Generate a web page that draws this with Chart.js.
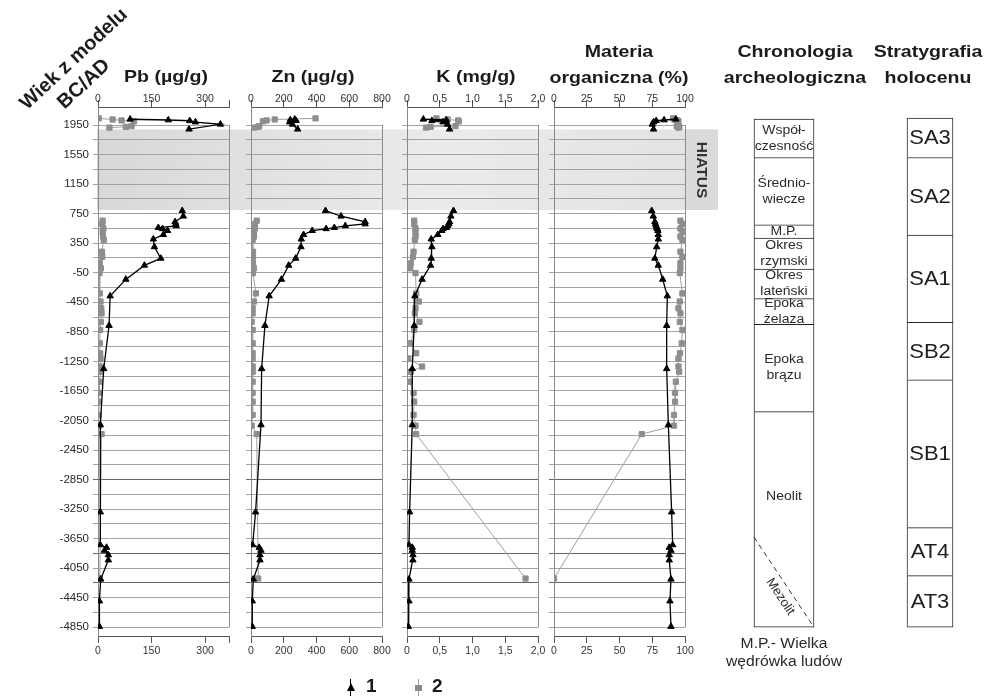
<!DOCTYPE html>
<html lang="pl">
<head>
<meta charset="utf-8">
<title>Pb, Zn, K, materia organiczna – chronologia</title>
<script src="https://cdn.jsdelivr.net/npm/chart.js@4.4.1/dist/chart.umd.min.js"></script>
<style>
  html, body { margin:0; padding:0; background:#fff; }
  #stage { position:relative; width:985px; height:698px; overflow:hidden;
           font-family:"Liberation Sans", Arial, Helvetica, sans-serif; color:#1b1b1b; }
  #stage canvas { position:absolute; left:0; top:0; }
  .t { position:absolute; white-space:nowrap; text-align:center; }
  .hdr { width:240px; font-weight:bold; font-size:17px; line-height:26px; transform:scaleX(1.15); }
  .rot { font-weight:bold; font-size:20px; line-height:22px; transform-origin:center center; }
  .note { width:180px; font-size:14px; line-height:18px; color:#2a2a2a; transform:scaleX(1.12); }
  .leg { font-weight:bold; font-size:19px; line-height:22px; text-align:left; }
  .bar { position:absolute; }
</style>
</head>
<body>
<div id="stage">
  <canvas id="cPb" width="985" height="698"></canvas>
  <canvas id="cZn" width="985" height="698"></canvas>
  <canvas id="cK" width="985" height="698"></canvas>
  <canvas id="cMO" width="985" height="698"></canvas>
  <canvas id="cChron" width="985" height="698"></canvas>

  <div class="t rot" style="left:-12px;top:47px;width:170px;transform:rotate(-43deg)">Wiek z modelu</div>
  <div class="t rot" style="left:43px;top:72px;width:80px;transform:rotate(-43deg)">BC/AD</div>

  <div class="t hdr" style="left:46px;top:64px">Pb (µg/g)</div>
  <div class="t hdr" style="left:193px;top:64px">Zn (µg/g)</div>
  <div class="t hdr" style="left:356px;top:64px">K (mg/g)</div>
  <div class="t hdr" style="left:499px;top:39px">Materia<br>organiczna (%)</div>
  <div class="t hdr" style="left:675px;top:39px">Chronologia<br>archeologiczna</div>
  <div class="t hdr" style="left:808px;top:39px">Stratygrafia<br>holocenu</div>

  <div class="t" style="left:662px;top:160px;width:80px;font-weight:bold;font-size:15.5px;line-height:20px;color:#333;transform:rotate(90deg)">HIATUS</div>

  <div class="t note" style="left:694px;top:634px">M.P.- Wielka<br>wędrówka ludów</div>

  <!-- legend -->
  <div class="bar" style="left:350px;top:679px;width:1px;height:17px;background:#000"></div>
  <div class="bar" style="left:346.5px;top:683px;width:0;height:0;border-left:4px solid transparent;border-right:4px solid transparent;border-bottom:8px solid #000"></div>
  <div class="t leg" style="left:366px;top:675px">1</div>
  <div class="bar" style="left:418px;top:679px;width:1px;height:17px;background:#9a9a9a"></div>
  <div class="bar" style="left:415px;top:685px;width:7px;height:6px;background:#8a8a8a"></div>
  <div class="t leg" style="left:432px;top:675px">2</div>
</div>

<script>
// ---------------- DATA ----------------
// Series 1 (triangles): sample ages (BC/AD); null marks the hiatus break
const ageS1 = [2028, 2018, 2008, 1990, 1960, 1893, null,
  790, 715, 640, 610, 585, 560, 545, 520, 465, 405, 300, 145, 50, -140, -365, -765,
  -1350, -2110, -3290, -3735, -3770, -3810, -3870, -3940, -4200, -4495, -4840];
const pbS1 = [90, 197, 257, 273, 343, 255, null,
  236, 239, 216, 218, 219, 169, 181, 195, 183, 155, 158, 176, 130, 78, 34, 31,
  16, 6.5, 6.5, 6.5, 24, 18, 29, 29, 7.5, 4, 4];
const znS1 = [267, 240, 275, 236, 253, 285, null,
  455, 550, 697, 697, 576, 509, 459, 374, 321, 307, 305, 273, 230, 186, 111, 85,
  65, 61, 28, 10, 50, 61, 55, 55, 14, 8, 8];
const kS1 = [0.25, 0.6, 0.38, 0.55, 0.62, 0.65, null,
  0.71, 0.67, 0.65, 0.64, 0.62, 0.60, 0.55, 0.53, 0.47, 0.37, 0.38, 0.37, 0.36, 0.23, 0.12, 0.11,
  0.08, 0.08, 0.04, 0.03, 0.08, 0.08, 0.09, 0.09, 0.03, 0.03, 0.02];
const moS1 = [93, 84, 78, 76, 75, 76, null,
  74.6, 75.8, 77, 77.5, 78, 78.5, 78.9, 79.3, 79.6, 79.6, 78.4, 77, 79.6, 83, 86.5, 86,
  86, 87.3, 89.8, 90.6, 88, 89.3, 88, 88, 89.3, 88.5, 89.3];

// Series 2 (squares)
const ageS2 = [2040, 2025, 2012, 2000, 1935, 1925, 1915, null,
  655, 610, 550, 505, 440, 395, 235, 165, 80, 10, -55, -330, -440, -530, -600, -715, -825,
  -1005, -1140, -1210, -1320, -1390, -1525, -1675, -1795, -1975, -2120, -2235, -4190];
const pbS2 = [2, 41, 66, 101, 94, 78, 32, null,
  13, 12, 15, 13, 14, 16, 11, 12, 5, 8, 4, 5, 7, 9, 10, 8, 6,
  5, 6, 7, 8, 7, 4, 3, 2, 2, 4, 10, 5];
const znS2 = [394, 145, 95, 73, 50, 42, 18, null,
  35, 24, 24, 18, 18, 10, 12, 12, 12, 18, 12, 30, 18, 10, 10, 4, 10,
  10, 10, 10, 10, 10, 10, 10, 10, 10, 4, 35, 44];
const kS2 = [0.45, 0.62, 0.78, 0.79, 0.74, 0.36, 0.29, null,
  0.11, 0.11, 0.13, 0.13, 0.13, 0.12, 0.10, 0.09, 0.06, 0.05, 0.13, 0.14, 0.18, 0.13, 0.12, 0.19, 0.11,
  0.06, 0.14, 0.02, 0.23, 0.06, 0.04, 0.10, 0.11, 0.10, 0.13, 0.14, 1.81];
const moS2 = [91, 92, 94, 95, 93.7, 95.7, 95, null,
  96.5, 98, 96.5, 98, 96.5, 98, 96.5, 98, 96.5, 96.5, 96, 98, 96, 95, 96.5, 96, 98,
  97.5, 96.2, 95, 95, 95.6, 93, 92.4, 92.4, 91.6, 91.6, 67, 0];

// Axis ticks
const yLabelYears = [1950, 1550, 1150, 750, 350, -50, -450, -850, -1250, -1650, -2050,
  -2450, -2850, -3250, -3650, -4050, -4450, -4850];
const darkGridYears = [-2850, -3850, -4250];
const pbTicks = [0, 150, 300];      const pbLabels = ['0', '150', '300'];
const znTicks = [0, 200, 400, 600, 800]; const znLabels = ['0', '200', '400', '600', '800'];
const kTicks = [0, 0.5, 1, 1.5, 2];  const kLabels = ['0', '0,5', '1,0', '1,5', '2,0'];
const moTicks = [0, 25, 50, 75, 100]; const moLabels = ['0', '25', '50', '75', '100'];

// Hiatus (years)
const hiatusYears = [1890, 800];

// Archaeological chronology (years)
const chronNames = ['Współ-\nczesność', 'Średnio-\nwiecze', 'M.P.', 'Okres\nrzymski',
  'Okres\nlateński', 'Epoka\nżelaza', 'Epoka\nbrązu', 'Neolit'];
const chronStart = [1510, 600, 420, 0, -400, -750, -1930, -4850];
const chronEnd   = [2031, 1510, 600, 420, 0, -400, -750, -1930];
const mezolitName = 'Mezolit';
const mezolitLine = [-3630, -4850];   // left / right end of the dashed boundary

// Holocene stratigraphy (years)
const stratNames = ['SA3', 'SA2', 'SA1', 'SB2', 'SB1', 'AT4', 'AT3'];
const stratStart = [1510, 460, -720, -1500, -3500, -4150, -4850];
const stratEnd   = [2045, 1510, 460, -720, -1500, -3500, -4150];

// ---------------- LAYOUT / STYLE ----------------
const W = 985;
const Y_MIN = -4968, Y_MAX = 2194;
const AREA_TOP = 107, AREA_BOTTOM = 636;
const gridYears = [];
for (let v = yLabelYears[0]; v >= yLabelYears[yLabelYears.length - 1]; v -= 200) gridYears.push(v);

Chart.defaults.font.family = '"Liberation Sans", Arial, Helvetica, sans-serif';
Chart.defaults.color = '#333';

function pts(ages, vals) {
  return ages.map((a, i) => (a === null ? { x: null, y: null } : { x: vals[i], y: a }));
}

const bandPlugin = {
  id: 'hiatusBand',
  beforeDraw(chart) {
    const y = chart.scales.y, ctx = chart.ctx;
    const t = y.getPixelForValue(hiatusYears[0]), b = y.getPixelForValue(hiatusYears[1]);
    ctx.save();
    const g = ctx.createLinearGradient(97, t, 718, b);
    g.addColorStop(0, '#d8d8d8');
    g.addColorStop(0.55, '#ebebeb');
    g.addColorStop(1, '#e2e2e2');
    ctx.fillStyle = g;
    ctx.fillRect(97, t, 718 - 97, b - t);
    ctx.fillStyle = '#dadada';
    ctx.fillRect(686, t, 32, b - t);
    ctx.restore();
  }
};

const boxPlugin = {
  id: 'panelBox',
  beforeDatasetsDraw(chart) {
    const { ctx, chartArea: a, scales: { y } } = chart;
    const x = Math.round(a.right) + 0.5;
    ctx.save();
    ctx.strokeStyle = '#8c8c8c';
    ctx.lineWidth = 1;
    ctx.beginPath();
    ctx.moveTo(x, y.getPixelForValue(yLabelYears[0]));
    ctx.lineTo(x, y.getPixelForValue(yLabelYears[yLabelYears.length - 1]));
    ctx.stroke();
    ctx.restore();
  }
};

function xAxis(pos, cfg) {
  const top = pos === 'top';
  return {
    type: 'linear', position: pos, min: 0, max: cfg.max, bounds: 'data',
    afterBuildTicks: (s) => {
      const tk = cfg.ticks.map(v => ({ value: v }));
      if (cfg.ticks[cfg.ticks.length - 1] !== cfg.max) tk.push({ value: cfg.max });
      s.ticks = tk;
    },
    afterFit: (s) => { s.height = top ? AREA_TOP : 698 - AREA_BOTTOM; s.paddingLeft = 0; s.paddingRight = 0; },
    ticks: {
      autoSkip: false, maxRotation: 0, minRotation: 0,
      padding: top ? -5 : 2,
      font: { size: 10.5 }, color: '#333',
      callback: (v, i) => (cfg.labels[i] !== undefined ? cfg.labels[i] : '')
    },
    grid: { drawOnChartArea: false, drawTicks: true, tickLength: 7, color: '#555', lineWidth: 1 },
    border: { display: true, color: '#555', width: 1 }
  };
}

function makePanel(id, cfg) {
  const yW = cfg.showY ? 40 : 5;
  const plugins = [boxPlugin];
  if (cfg.band) plugins.unshift(bandPlugin);
  return new Chart(document.getElementById(id), {
    type: 'scatter',
    data: {
      datasets: [
        {
          label: '1', data: pts(ageS1, cfg.s1), showLine: true,
          borderColor: '#000', borderWidth: 1.3,
          pointStyle: 'triangle', pointRadius: 3.7, pointBorderWidth: 1,
          pointBackgroundColor: '#000', pointBorderColor: '#000', spanGaps: false
        },
        {
          label: '2', data: pts(ageS2, cfg.s2), showLine: true,
          borderColor: '#a0a0a0', borderWidth: 1,
          pointStyle: 'rect', pointRadius: 3.7, pointBorderWidth: 1,
          pointBackgroundColor: '#8e8e8e', pointBorderColor: '#8e8e8e', spanGaps: false
        }
      ]
    },
    options: {
      responsive: false, animation: false, devicePixelRatio: 1,
      layout: { autoPadding: false, padding: { left: cfg.left - yW, right: W - cfg.right, top: 0, bottom: 0 } },
      plugins: { legend: { display: false }, tooltip: { enabled: false } },
      events: [],
      scales: {
        x: xAxis('top', cfg),
        x2: xAxis('bottom', cfg),
        y: {
          type: 'linear', min: Y_MIN, max: Y_MAX, bounds: 'data',
          afterBuildTicks: (s) => { s.ticks = gridYears.map(v => ({ value: v })); },
          afterFit: (s) => { s.width = yW; s.paddingTop = 0; s.paddingBottom = 0; },
          ticks: {
            display: cfg.showY, autoSkip: false, padding: 4,
            font: { size: 11.5 }, color: '#2a2a2a',
            callback: (v) => (yLabelYears.includes(v) ? String(v) : '')
          },
          grid: {
            drawTicks: true, tickLength: 5, lineWidth: 1,
            color: (c) => (c.tick && darkGridYears.includes(c.tick.value) ? '#666' : '#a4a4a4')
          },
          border: { display: true, color: '#8a8a8a', width: 1 }
        }
      }
    },
    plugins
  });
}

makePanel('cPb', { left: 98, right: 229, max: 367, ticks: pbTicks, labels: pbLabels, s1: pbS1, s2: pbS2, showY: true, band: true });
makePanel('cZn', { left: 251, right: 382, max: 800, ticks: znTicks, labels: znLabels, s1: znS1, s2: znS2, showY: false });
makePanel('cK',  { left: 407, right: 538, max: 2, ticks: kTicks, labels: kLabels, s1: kS1, s2: kS2, showY: false });
makePanel('cMO', { left: 554, right: 685, max: 100, ticks: moTicks, labels: moLabels, s1: moS1, s2: moS2, showY: false });

// ---------------- CHRONOLOGY COLUMNS ----------------
function stretched(ctx, txt, x, y, sx) {
  ctx.save(); ctx.translate(x, y); ctx.scale(sx, 1); ctx.fillText(txt, 0, 0); ctx.restore();
}

const chronPlugin = {
  id: 'chronLabels',
  afterDatasetsDraw(chart) {
    const ctx = chart.ctx, y = chart.scales.y;
    ctx.save();
    ctx.textAlign = 'center';
    ctx.textBaseline = 'middle';

    const m0 = chart.getDatasetMeta(0);
    ctx.fillStyle = '#2a2a2a';
    ctx.font = '12.5px "Liberation Sans", Arial, sans-serif';
    m0.data.forEach((bar, i) => {
      const lines = chronNames[i].split('\n');
      let cy = (bar.y + bar.base) / 2;
      if (i === chronNames.length - 1) {
        const yd = (y.getPixelForValue(mezolitLine[0]) + y.getPixelForValue(mezolitLine[1])) / 2;
        cy = (Math.min(bar.y, bar.base) + yd) / 2;
      }
      lines.forEach((ln, k) => stretched(ctx, ln, bar.x, cy + (k - (lines.length - 1) / 2) * 16, 1.12));
    });

    // dashed Neolithic / Mesolithic boundary
    const last = m0.data[m0.data.length - 1];
    const xl = last.x - last.width / 2, xr = last.x + last.width / 2;
    const ya = y.getPixelForValue(mezolitLine[0]), yb = y.getPixelForValue(mezolitLine[1]);
    ctx.setLineDash([5, 4]);
    ctx.strokeStyle = '#333';
    ctx.lineWidth = 1;
    ctx.beginPath(); ctx.moveTo(xl, ya); ctx.lineTo(xr, yb); ctx.stroke();
    ctx.setLineDash([]);
    const ang = Math.atan2(yb - ya, xr - xl);
    const ux = Math.cos(ang), uy = Math.sin(ang);
    const mx = (xl + xr) / 2, my = (ya + yb) / 2;
    const px = mx + ux * 10 - uy * 11, py = my + uy * 10 + ux * 11;
    ctx.font = '13px "Liberation Sans", Arial, sans-serif';
    ctx.save(); ctx.translate(px, py); ctx.rotate(ang); ctx.fillText(mezolitName, 0, 0); ctx.restore();

    const m1 = chart.getDatasetMeta(1);
    ctx.fillStyle = '#1e1e1e';
    ctx.font = '20px "Liberation Sans", Arial, sans-serif';
    m1.data.forEach((bar, i) => stretched(ctx, stratNames[i], bar.x, (bar.y + bar.base) / 2 + 1, 1.1));
    ctx.restore();
  }
};

function segBorder(n) {
  return (c) => ({ top: 1, left: 1, right: 1, bottom: c.dataIndex === n - 1 ? 1 : 0 });
}

new Chart(document.getElementById('cChron'), {
  type: 'bar',
  data: {
    labels: ['Chronologia archeologiczna', 'Stratygrafia holocenu'],
    datasets: [
      {
        label: 'Chronologia archeologiczna',
        data: chronNames.map((n, i) => ({ x: 'Chronologia archeologiczna', y: [chronStart[i], chronEnd[i]] })),
        barThickness: 60, backgroundColor: '#fff', borderColor: '#262626',
        borderWidth: segBorder(chronNames.length), borderSkipped: false, grouped: false, clip: false
      },
      {
        label: 'Stratygrafia holocenu',
        data: stratNames.map((n, i) => ({ x: 'Stratygrafia holocenu', y: [stratStart[i], stratEnd[i]] })),
        barThickness: 46, backgroundColor: '#fff', borderColor: '#262626',
        borderWidth: segBorder(stratNames.length), borderSkipped: false, grouped: false, clip: false
      }
    ]
  },
  options: {
    responsive: false, animation: false, devicePixelRatio: 1, events: [],
    layout: { autoPadding: false, padding: { left: 784, right: W - 930, top: AREA_TOP, bottom: 698 - AREA_BOTTOM } },
    plugins: { legend: { display: false }, tooltip: { enabled: false } },
    scales: {
      x: { type: 'category', offset: false, display: false },
      y: { type: 'linear', min: Y_MIN, max: Y_MAX, bounds: 'data', display: false }
    }
  },
  plugins: [chronPlugin]
});
</script>
</body>
</html>
